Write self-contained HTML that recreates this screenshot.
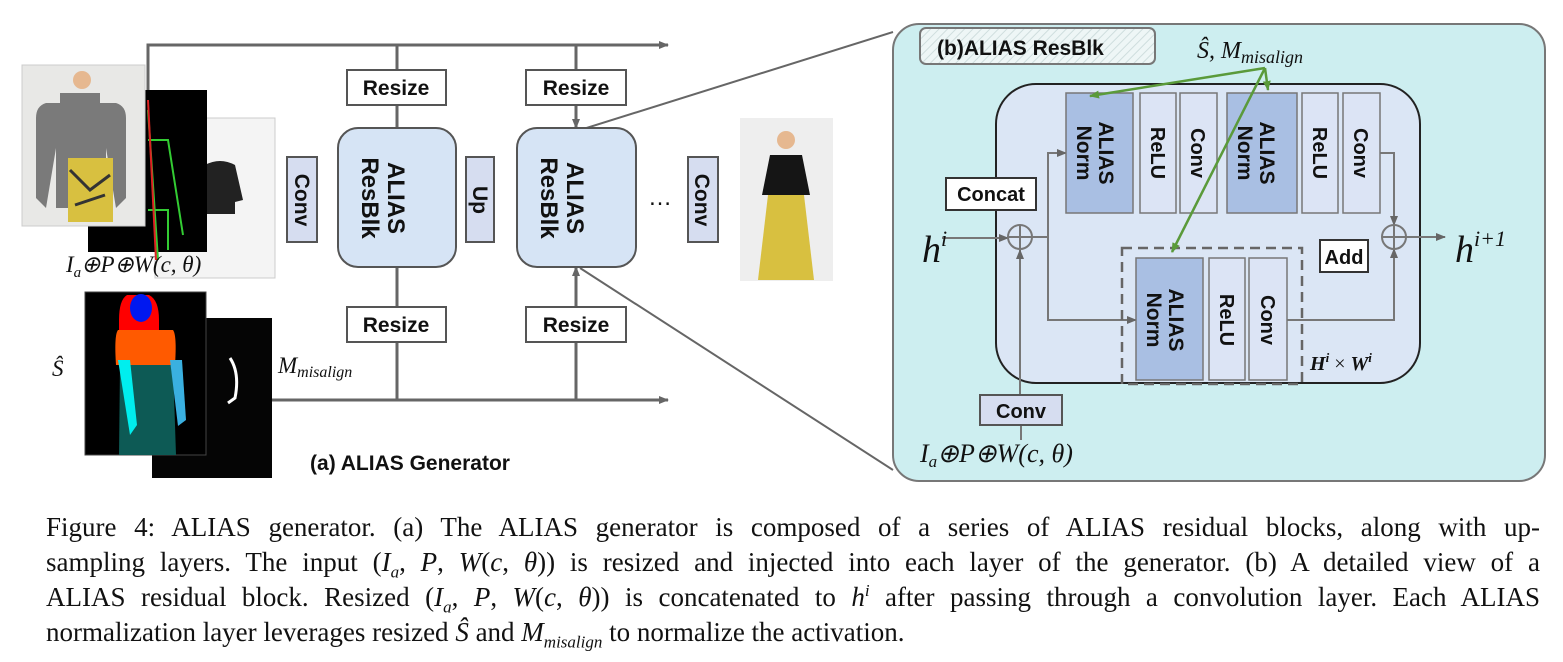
<!DOCTYPE html>
<html><head><meta charset="utf-8"><style>
body{margin:0;width:1563px;height:662px;background:#fff;overflow:hidden;position:relative;font-family:"Liberation Sans",sans-serif}
.cap{position:absolute;left:46px;width:1494px;font-family:"Liberation Serif",serif;font-size:27px;line-height:35px;height:35px;white-space:nowrap;text-align:justify;text-align-last:justify;color:#111}
i{font-family:"Liberation Serif",serif}
sub,sup{font-size:17px;line-height:0}
</style></head><body>
<svg width="1563" height="490" style="position:absolute;left:0;top:0" font-family="Liberation Sans, sans-serif">
<defs>
<marker id="a" markerWidth="10" markerHeight="10" refX="9" refY="5" orient="auto" markerUnits="userSpaceOnUse"><path d="M0,1 L10,5 L0,9z" fill="#666"/></marker>
<marker id="g" markerWidth="10" markerHeight="10" refX="9" refY="5" orient="auto" markerUnits="userSpaceOnUse"><path d="M0,1 L10,5 L0,9z" fill="#5a9a3a"/></marker>
<pattern id="h" width="6" height="6" patternUnits="userSpaceOnUse" patternTransform="rotate(45)"><rect width="6" height="6" fill="#eef6f6"/><line x1="0" y1="0" x2="0" y2="6" stroke="#cfdede" stroke-width="2"/></pattern>
</defs>
<g stroke="#666" stroke-width="3" fill="none">
<path d="M148 120 V45 H668" marker-end="url(#a)"/>
<path d="M272 400 H668" marker-end="url(#a)"/>
<path d="M397 45 V70 M576 45 V70"/>
<path d="M397 105 V128 M576 105 V128" marker-end="url(#a)"/>
<path d="M397 400 V342 M576 400 V342"/>
<path d="M397 307 V267 M576 307 V267" marker-end="url(#a)"/>
<path d="M580 130 L893 32 M580 268 L893 470" stroke-width="2"/>
</g>
<rect x="155" y="118" width="120" height="160" fill="#f4f4f4" stroke="#ccc"/>
<path d="M205 165 q15 -8 30 0 l8 35 -8 2 v12 h-30 v-10 l-6 -4z" fill="#222"/>
<rect x="88" y="90" width="119" height="162" fill="#000"/>
<path d="M148 110 l10 150 M148 140 h20 l15 95 M148 210 h20 v40" stroke="#3c3" stroke-width="2" fill="none"/>
<path d="M148 100 l8 160" stroke="#d22" stroke-width="2"/>
<rect x="22" y="65" width="123" height="161" fill="#e8e8e6" stroke="#ccc"/>
<path d="M60 93 h40 v10 h16 q10 3 10 15 v80 l-10 10 -10 -60 v60 h-50 v-60 l-10 60 -10 -10 v-80 q0 -12 10 -15 h14z" fill="#7a7a7a"/>
<rect x="68" y="158" width="45" height="64" fill="#d8c040"/>
<path d="M70 170 l20 20 20 -15 M75 205 l30 -10" stroke="#333" stroke-width="3" fill="none"/>
<circle cx="82" cy="80" r="9" fill="#e6b890"/>
<rect x="152" y="318" width="120" height="160" fill="#050505"/>
<path d="M230 358 q10 15 5 40 l-7 5" stroke="#fff" stroke-width="3" fill="none"/>
<rect x="85" y="292" width="121" height="163" fill="#000" stroke="#444"/>
<path d="M127 295 h22 q10 5 10 25 v25 h-40 v-25 q0 -20 8 -25z" fill="#f00"/>
<ellipse cx="141" cy="308" rx="11" ry="14" fill="#0018f0"/>
<path d="M118 330 h55 q4 5 2 35 h-59 q-2 -30 2 -35z" fill="#ff5a00"/>
<path d="M120 365 h53 l3 90 h-57z" fill="#0d5a55"/>
<path d="M118 360 h12 l7 65 -7 10 z" fill="#00eeee"/><path d="M170 360 h12 l4 60 -8 6z" fill="#3ab0e0"/>
<rect x="740" y="118" width="93" height="163" fill="#eee"/>
<circle cx="786" cy="140" r="9" fill="#e6b890"/>
<path d="M770 155 h32 l8 40 h-48z" fill="#151515"/>
<path d="M768 195 h36 l10 85 h-56z" fill="#d8c040"/>
<g font-family="Liberation Serif, serif" font-style="italic" font-size="23" fill="#111">
<text x="66" y="272">I<tspan font-size="15" dy="5">a</tspan><tspan dy="-5">⊕P⊕W(c, θ)</tspan></text>
<text x="52" y="376">Ŝ</text>
<text x="278" y="373">M<tspan font-size="16" dy="4">misalign</tspan></text>
</g>
<g stroke="#555" stroke-width="2">
<rect x="287" y="157" width="30" height="85" fill="#d6ddf0"/>
<rect x="338" y="128" width="118" height="139" rx="20" fill="#d6e4f5"/>
<rect x="466" y="157" width="28" height="85" fill="#d6ddf0"/>
<rect x="517" y="128" width="119" height="139" rx="20" fill="#d6e4f5"/>
<rect x="688" y="157" width="30" height="85" fill="#d6ddf0"/>
<rect x="347" y="70" width="99" height="35" fill="#fff"/><rect x="526" y="70" width="100" height="35" fill="#fff"/>
<rect x="347" y="307" width="99" height="35" fill="#fff"/><rect x="526" y="307" width="100" height="35" fill="#fff"/>
</g>
<g font-weight="bold" font-size="21" fill="#111" text-anchor="middle">
<text x="396" y="95">Resize</text><text x="576" y="95">Resize</text><text x="396" y="332">Resize</text><text x="576" y="332">Resize</text>
<text transform="translate(295,200) rotate(90)">Conv</text>
<text transform="translate(473,200) rotate(90)">Up</text>
<text transform="translate(695,200) rotate(90)">Conv</text>
<text transform="translate(388,198) rotate(90)" font-size="24">ALIAS</text>
<text transform="translate(362,198) rotate(90)" font-size="24">ResBlk</text>
<text transform="translate(567,198) rotate(90)" font-size="24">ALIAS</text>
<text transform="translate(541,198) rotate(90)" font-size="24">ResBlk</text>
<text x="660" y="205" font-weight="normal" font-size="24">…</text>
<text x="410" y="470" font-size="21">(a) ALIAS Generator</text>
</g>
<rect x="893" y="24" width="652" height="457" rx="26" fill="#cdeef0" stroke="#777" stroke-width="2"/>
<rect x="920" y="28" width="235" height="36" rx="6" fill="url(#h)" stroke="#777" stroke-width="2"/>
<text x="937" y="55" font-weight="bold" font-size="21" fill="#111">(b)ALIAS ResBlk</text>
<text x="1197" y="58" font-family="Liberation Serif, serif" font-style="italic" font-size="24" fill="#111">Ŝ, M<tspan font-size="18" dy="5">misalign</tspan></text>
<rect x="996" y="84" width="424" height="299" rx="40" fill="#dbe6f5" stroke="#222" stroke-width="2"/>
<g stroke="#777" stroke-width="2" fill="none">
<path d="M942 238 H1008" marker-end="url(#a)"/>
<path d="M1020 395 V250" marker-end="url(#a)"/>
<path d="M1032 237 H1048 V153 H1066" marker-end="url(#a)"/>
<path d="M1048 237 V320 H1136" marker-end="url(#a)"/>
<path d="M1380 153 H1394 V225" marker-end="url(#a)"/>
<path d="M1287 320 H1394 V249" marker-end="url(#a)"/>
<path d="M1406 237 H1445" marker-end="url(#a)"/>
<path d="M1021 425 V440"/>
<circle cx="1020" cy="237" r="12"/><path d="M1008 237 h24 M1020 225 v24"/>
<circle cx="1394" cy="237" r="12"/><path d="M1382 237 h24 M1394 225 v24"/>
</g>
<rect x="1122" y="248" width="180" height="136" fill="none" stroke="#666" stroke-width="2.5" stroke-dasharray="10,6"/>
<g stroke="#777" stroke-width="1.5">
<rect x="1066" y="93" width="67" height="120" fill="#a9bfe3"/>
<rect x="1140" y="93" width="36" height="120" fill="#dce4f5"/>
<rect x="1180" y="93" width="37" height="120" fill="#dce4f5"/>
<rect x="1227" y="93" width="70" height="120" fill="#a9bfe3"/>
<rect x="1302" y="93" width="36" height="120" fill="#dce4f5"/>
<rect x="1343" y="93" width="37" height="120" fill="#dce4f5"/>
<rect x="1136" y="258" width="67" height="122" fill="#a9bfe3"/>
<rect x="1209" y="258" width="36" height="122" fill="#dce4f5"/>
<rect x="1249" y="258" width="38" height="122" fill="#dce4f5"/>
</g>
<g stroke="#333" stroke-width="2" fill="#fff"><rect x="946" y="178" width="90" height="32"/><rect x="1320" y="240" width="48" height="32"/></g>
<rect x="980" y="395" width="82" height="30" fill="#d6ddf0" stroke="#555" stroke-width="2"/>
<g stroke="#5a9a3a" stroke-width="2.5" fill="none">
<path d="M1265 68 L1090 96" marker-end="url(#g)"/>
<path d="M1265 68 L1268 90" marker-end="url(#g)"/>
<path d="M1265 68 L1172 252" marker-end="url(#g)"/>
</g>
<g font-weight="bold" font-size="20" fill="#111" text-anchor="middle">
<text x="991" y="201">Concat</text><text x="1344" y="264">Add</text><text x="1021" y="418">Conv</text>
<text transform="translate(1099,153) rotate(90)" font-size="21">ALIAS</text><text transform="translate(1077,153) rotate(90)" font-size="21">Norm</text>
<text transform="translate(1260,153) rotate(90)" font-size="21">ALIAS</text><text transform="translate(1238,153) rotate(90)" font-size="21">Norm</text>
<text transform="translate(1169,320) rotate(90)" font-size="21">ALIAS</text><text transform="translate(1147,320) rotate(90)" font-size="21">Norm</text>
<text transform="translate(1151,153) rotate(90)">ReLU</text><text transform="translate(1191,153) rotate(90)">Conv</text>
<text transform="translate(1313,153) rotate(90)">ReLU</text><text transform="translate(1354,153) rotate(90)">Conv</text>
<text transform="translate(1220,320) rotate(90)">ReLU</text><text transform="translate(1261,320) rotate(90)">Conv</text>
</g>
<g font-family="Liberation Serif, serif" font-style="italic" fill="#111">
<text x="922" y="262" font-size="38">h<tspan font-size="22" dy="-16">i</tspan></text>
<text x="1455" y="262" font-size="38">h<tspan font-size="22" dy="-16">i+1</tspan></text>
<text x="1310" y="370" font-size="20" font-weight="bold">H<tspan font-size="13" dy="-8">i</tspan><tspan dy="8" font-weight="normal" font-style="normal"> × </tspan>W<tspan font-size="13" dy="-8">i</tspan></text>
<text x="920" y="462" font-size="26">I<tspan font-size="17" dy="5">a</tspan><tspan dy="-5">⊕P⊕W(c, θ)</tspan></text>
</g>
</svg>
<div class="cap" style="top:510px">Figure 4: ALIAS generator. (a) The ALIAS generator is composed of a series of ALIAS residual blocks, along with up-</div>
<div class="cap" style="top:545px">sampling layers. The input (<i>I<sub>a</sub></i>, <i>P</i>, <i>W</i>(<i>c</i>, <i>θ</i>)) is resized and injected into each layer of the generator. (b) A detailed view of a</div>
<div class="cap" style="top:580px">ALIAS residual block. Resized (<i>I<sub>a</sub></i>, <i>P</i>, <i>W</i>(<i>c</i>, <i>θ</i>)) is concatenated to <i>h<sup>i</sup></i> after passing through a convolution layer. Each ALIAS</div>
<div class="cap" style="top:615px;text-align-last:left">normalization layer leverages resized <i>Ŝ</i> and <i>M<sub>misalign</sub></i> to normalize the activation.</div>
</body></html>
